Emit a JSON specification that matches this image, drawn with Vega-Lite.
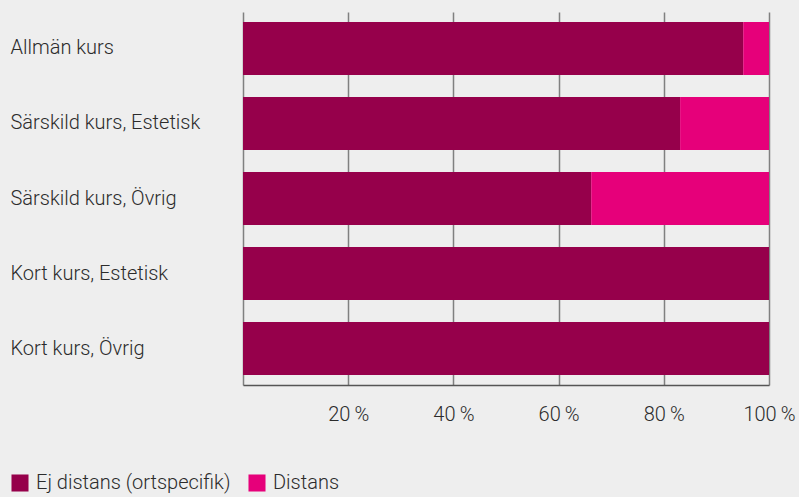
{
  "$schema": "https://vega.github.io/schema/vega-lite/v6.json",
  "width": 526,
  "height": 373,
  "autosize": "none",
  "padding": {"left": 243, "top": 12, "right": 30, "bottom": 112},
  "background": "#eeeeee",
  "config": {
    "view": {"stroke": null},
    "font": "Roboto",
    "axis": {"labelFont": "Roboto", "labelColor": "#2b2b2b", "labelFontSize": 20, "labelFontWeight": 300}
  },
  "data": {
    "values": [
      {"kurs": "Allmän kurs", "typ": "Ej distans (ortspecifik)", "andel": 0.951},
      {"kurs": "Allmän kurs", "typ": "Distans", "andel": 0.049},
      {"kurs": "Särskild kurs, Estetisk", "typ": "Ej distans (ortspecifik)", "andel": 0.831},
      {"kurs": "Särskild kurs, Estetisk", "typ": "Distans", "andel": 0.169},
      {"kurs": "Särskild kurs, Övrig", "typ": "Ej distans (ortspecifik)", "andel": 0.662},
      {"kurs": "Särskild kurs, Övrig", "typ": "Distans", "andel": 0.338},
      {"kurs": "Kort kurs, Estetisk", "typ": "Ej distans (ortspecifik)", "andel": 1.0},
      {"kurs": "Kort kurs, Estetisk", "typ": "Distans", "andel": 0.0},
      {"kurs": "Kort kurs, Övrig", "typ": "Ej distans (ortspecifik)", "andel": 1.0},
      {"kurs": "Kort kurs, Övrig", "typ": "Distans", "andel": 0.0}
    ]
  },
  "mark": {"type": "bar"},
  "encoding": {
    "y": {
      "field": "kurs",
      "type": "nominal",
      "sort": null,
      "title": null,
      "scale": {"paddingInner": 0.293, "paddingOuter": 0.133},
      "axis": {
        "domain": false,
        "ticks": false,
        "labelAlign": "left",
        "labelPadding": 233,
        "labelLimit": 240
      }
    },
    "x": {
      "field": "andel",
      "type": "quantitative",
      "stack": "zero",
      "title": null,
      "scale": {"domain": [0, 1], "nice": false},
      "axis": {
        "values": [0, 0.2, 0.4, 0.6, 0.8, 1.0],
        "grid": true,
        "gridColor": "#808080",
        "gridWidth": 1.5,
        "domain": true,
        "domainColor": "#555555",
        "domainWidth": 1.5,
        "ticks": false,
        "labelFlush": false,
        "labelOverlap": false,
        "labelBound": false,
        "labelPadding": 19,
        "labelExpr": "datum.value == 0 ? '' : round(datum.value * 100) + '\u2009%'"
      }
    },
    "color": {
      "field": "typ",
      "type": "nominal",
      "title": null,
      "scale": {
        "domain": ["Ej distans (ortspecifik)", "Distans"],
        "range": ["#96004b", "#e6007a"]
      },
      "legend": {
        "orient": "none",
        "legendX": -233,
        "legendY": 461,
        "direction": "horizontal",
        "symbolType": "square",
        "symbolSize": 290,
        "symbolStrokeWidth": 0,
        "labelFont": "Roboto",
        "labelFontSize": 20,
        "labelFontWeight": 300,
        "labelLimit": 300,
        "labelColor": "#2b2b2b",
        "columnPadding": 16,
        "labelOffset": 6
      }
    },
    "order": {"field": "typ", "sort": "descending"}
  }
}
